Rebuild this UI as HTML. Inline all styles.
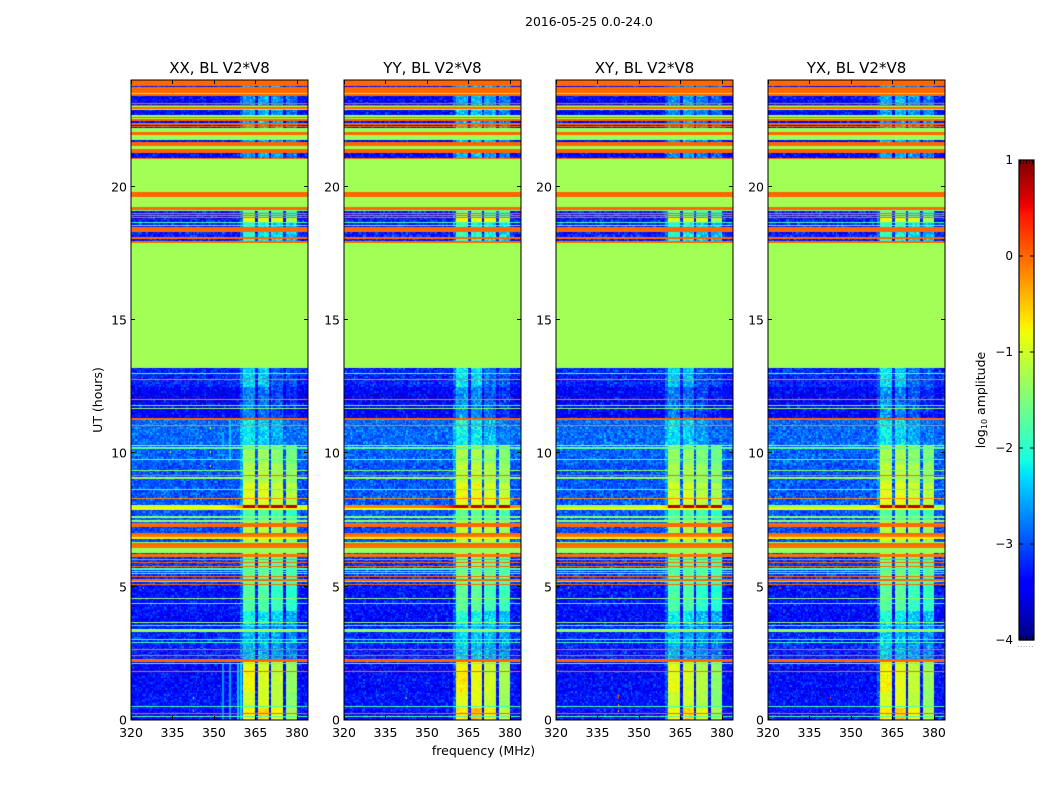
<!DOCTYPE html>
<html lang="en">
<head>
<meta charset="utf-8">
<title>2016-05-25 spectrogram</title>
<style>
html,body{margin:0;padding:0;background:#fff;}
#figure{position:relative;width:1050px;height:800px;overflow:hidden;background:#fff;font-family:"DejaVu Sans","Liberation Sans",sans-serif;}
#figure canvas{position:absolute;top:80px;}
#overlay{position:absolute;left:0;top:0;}
text{font-family:"DejaVu Sans","Liberation Sans",sans-serif;fill:#000;}
</style>
</head>
<body>
<div id="figure">
<canvas id="panel0" width="177" height="640" style="left:131px"></canvas>
<canvas id="panel1" width="177" height="640" style="left:344px"></canvas>
<canvas id="panel2" width="177" height="640" style="left:556px"></canvas>
<canvas id="panel3" width="177" height="640" style="left:768px"></canvas>
<svg id="overlay" width="1050" height="800" xmlns="http://www.w3.org/2000/svg">
<text x="589" y="26" font-size="12.4" text-anchor="middle">2016-05-25 0.0-24.0</text>
<text x="483.5" y="755" font-size="12.5" text-anchor="middle">frequency (MHz)</text>
<text transform="translate(102,400) rotate(-90)" font-size="12.5" text-anchor="middle">UT (hours)</text>
<text transform="translate(985,400) rotate(-90)" font-size="12.5" text-anchor="middle">log<tspan font-size="8" dy="2">10</tspan><tspan dy="-2"> amplitude</tspan></text>
<g id="axes"></g>
<g id="colorbar"></g>
<text x="1026" y="647" font-size="5" letter-spacing="1.2" text-anchor="middle" fill="#555">......</text>
</svg>
</div>
<script>
/* ---------- chart data (MHz, UT hours, log10 amplitude) ---------- */
const panelTitles = ["XX, BL V2*V8", "YY, BL V2*V8", "XY, BL V2*V8", "YX, BL V2*V8"];
const frequencyTicks = [320, 335, 350, 365, 380];
const utTicks = [0, 5, 10, 15, 20];
const colorbarTicks = [1, 0, -1, -2, -3, -4];
const colorbarTickLabels = ["1", "0", "\u22121", "\u22122", "\u22123", "\u22124"];
const panelBandOffset = [0, 0.1, -0.05, 0.05];
const rampLevelByPanel = [-1.0, -0.2, -1.3, -1.3];
const subbandEdges = [[360.5, 364.8], [365.9, 369.9], [370.6, 375], [376, 380]];

/* [utLow, utHigh, background, band1, band2, band3, band4] */
const baseSegments = [
  [0, 0.45, -3.3, -0.75, -0.55, -0.85, -1.25],
  [0.45, 1.05, -3.3, -1.0, -0.95, -1.15, -1.4],
  [1.05, 1.7, -3.35, -0.8, -0.95, -1.1, -1.35],
  [1.7, 2.2, -3.35, -0.85, -0.95, -1.15, -1.35],
  [2.2, 3.6, -3.2, -2.4, -2.5, -2.6, -2.7],
  [3.6, 4.1, -3.35, -2.1, -2.2, -2.4, -2.5],
  [4.1, 5.05, -3.3, -1.75, -1.75, -1.95, -2.0],
  [5.05, 6.2, -3.1, -1.6, -1.6, -1.7, -1.8],
  [6.2, 7.45, -3.0, -1.2, -1.15, -1.25, -1.4],
  [7.45, 7.9, -2.95, -1.8, -1.75, -1.85, -1.95],
  [7.9, 8.9, -2.95, -0.9, -0.9, -1.05, -1.15],
  [8.9, 9.6, -2.95, -1.15, -1.15, -1.25, -1.4],
  [9.6, 10.3, -2.9, -1.3, -1.3, -1.45, -1.55],
  [10.3, 11.3, -2.85, -2.2, -2.3, -2.55, -2.8],
  [11.3, 12.5, -3.4, -2.7, -2.8, -3.0, -3.2],
  [12.5, 13.2, -3.2, -2.3, -2.4, -2.9, -3.0],
  [13.2, 17.9, -1.27, -1.27, -1.27, -1.27, -1.27],
  [17.9, 18.65, -3.2, -2.0, -2.1, -2.3, -2.4],
  [18.65, 18.85, -3.25, -0.9, -1.0, -0.95, -1.25],
  [18.85, 19.2, -3.15, -1.6, -1.7, -1.9, -2.0],
  [19.2, 21.1, -3.35, -2.6, -2.6, -2.7, -2.8],
  [21.1, 24, -3.35, -2.6, -2.5, -2.65, -2.8]
];

/* [utLow, utHigh, level] full-width flagged rows */
const flatStripes = [
  [0.10,0.13,-1.8],[0.225,0.25,0],[0.50,0.54,-1.8],[1.80,1.83,0],[2.09,2.13,-1.6],[2.19,2.29,0],
  [2.40,2.43,0],[2.625,2.65,0],[2.90,2.925,-1.8],[3.0,3.03,-1.8],[3.30,3.40,-1.35],[3.51,3.54,-1.8],
  [3.625,3.665,-1.35],[4.36,4.39,-1.8],[4.54,4.565,-1.4],[5.06,5.09,0],[5.16,5.19,-1.8],[5.23,5.27,0],
  [5.36,5.40,0],[5.49,5.52,-1.8],[5.55,5.58,-1.8],[5.62,5.65,-1.8],[5.67,5.70,-1.8],[5.74,5.78,0],
  [5.90,5.94,0],[6.0,6.03,-0.2],[6.11,6.23,-0.05],[6.28,6.46,-1.3],[6.46,6.56,-0.05],
  [6.56,6.64,0],[6.64,6.68,-1.3],[6.79,6.85,-0.7],[6.85,6.94,-0.1],[6.94,7.02,0],[7.25,7.40,0],
  [7.43,7.5,-1.4],[7.58,7.65,-1.4],[7.89,7.94,-0.8],[8.27,8.29,-0.2],[8.63,8.65,-1.7],[9.04,9.11,-1.35],
  [9.15,9.17,0],[9.34,9.375,-1.35],[9.75,9.77,-1.7],[10.18,10.22,-1.7],[10.26,10.30,-1.35],[11.04,11.06,-0.1],
  [11.25,11.31,0],[11.68,11.70,-1.35],[11.78,11.79,-1.7],[12.0,12.02,-0.1],[12.75,12.77,-0.1],[12.98,13.0,-1.7],
  [17.88,17.95,0],[18.05,18.12,0],[18.3,18.5,0],[18.53,18.56,-1.8],[18.65,18.68,-1.8],[18.82,18.85,0],
  [18.9,18.95,0],[18.99,19.02,0],[19.08,19.12,-1.5],[19.14,19.22,0],[19.22,19.61,-1.27],[19.61,19.8,0],
  [19.8,21.04,-1.27],[21.04,21.08,0],[21.26,21.42,0],[21.42,21.51,-1.3],[21.51,21.68,0],[21.75,21.93,-1.3],
  [21.93,22.05,0],[22.05,22.2,-1.3],[22.24,22.27,0],[22.31,22.39,0],[22.46,22.53,0],[22.53,22.58,-1.2],
  [22.58,22.63,0],[22.63,22.69,-1.3],[22.87,22.93,-1.3],[22.93,22.98,0],[22.98,23.04,-1.3],[23.04,23.08,0],
  [23.1,23.14,0],[23.40,23.48,0],[23.48,23.51,-0.6],[23.51,23.72,0],[23.76,23.79,0],[23.81,24,0]
];

/* bright row near 8 UT, one level per frequency knot */
const rampRow = [7.94, 8.07];
const rampFrequencies = [320, 350, 358, 360.5];
const rampOffsets = [0, 0.1, 0.5, 0.9];
const rampBandLevel = 0.75;

/* [panel, frequency, utLow, utHigh, level] */
const verticalLines = [
  [0,353.2,0,2.1,-2.65],[0,355.8,0,2.1,-2.6],[0,358.7,0,2.1,-2.4],[0,359.8,0,2.1,-2.3],
  [0,355.8,9.7,11.3,-2.4],[0,353.2,10.2,10.8,-2.5],[0,360,9.7,11.3,-2.2],[0,323.5,2.9,3.3,-2.4],
  [0,323.5,0.7,1.0,-2.5],[0,351,18.9,19.1,-1.8],[0,345.5,18.0,18.12,-1.5],
  [1,355,5.1,6.0,-1.9],[1,357.5,5.1,6.0,-1.9],[3,354,0.9,1.7,-2.4],[3,358.5,0.9,1.7,-2.5],
  [2,360,0,2.1,-2.5],[2,345,5.1,5.4,-2.5]
];

/* [panel, frequency, ut, level] */
const hotPixels = [
  [0,348.6,11.0,-0.8],[0,348.6,10.1,-0.8],[0,348.6,9.57,-0.8],[0,334,10.1,-0.9],[0,330.5,8.37,-0.2],
  [0,324.4,5.0,-0.1],[0,342.5,0.87,-0.6],[0,342.5,0.37,-0.4],
  [2,342.5,0.87,0.3],[2,342.5,0.92,0.1],[2,342.5,0.37,-0.5],[2,342.5,0.6,-0.2],[2,324.4,5.0,-0.1],
  [3,342.5,0.87,0.2],[3,342.5,0.37,-0.4],[3,324.4,5.0,0.3],[1,342.5,0.87,-1.6]
];

/* hand-typed pixel-scale grain added to noisy cells */
const speckleTable = [
 -0.21,0.08,-0.33,0.14,0.41,-0.12,-0.27,0.03,0.22,-0.38,0.11,-0.05,0.52,-0.18,-0.3,0.06,
 0.27,-0.24,-0.09,0.35,-0.41,0.17,0.02,-0.15,0.63,-0.28,0.09,-0.36,0.19,-0.07,0.31,-0.22,
 -0.11,0.44,-0.34,0.05,0.13,-0.26,0.24,-0.02,-0.4,0.37,0.01,-0.19,0.1,0.57,-0.31,-0.08,
 0.16,-0.25,0.29,-0.14,-0.37,0.07,0.21,-0.04,0.48,-0.29,-0.16,0.12,-0.06
];

/* ---------- scales ---------- */
const axesLefts = [131, 344, 556, 768];
const axesTop = 80, axesWidth = 177, axesHeight = 640;
const freqMin = 320, freqMax = 384, utMin = 0, utMax = 24;
const nCols = 128, nRows = 640;
const xOf = (f) => (f - freqMin) / (freqMax - freqMin) * axesWidth;
const yOf = (u) => axesHeight - (u - utMin) / (utMax - utMin) * axesHeight;
const cbLeft = 1019, cbWidth = 15, cbTop = 160, cbHeight = 480, cbMin = -4, cbMax = 1;
const cbY = (v) => cbTop + (cbMax - v) / (cbMax - cbMin) * cbHeight;

function channel(t, pts) {
  for (let i = 1; i < pts.length; i++) {
    if (t <= pts[i][0]) {
      const a = pts[i - 1], b = pts[i];
      return a[1] + (b[1] - a[1]) * (t - a[0]) / (b[0] - a[0]);
    }
  }
  return pts[pts.length - 1][1];
}
function jet(level) {
  const t = Math.min(1, Math.max(0, (level - cbMin) / (cbMax - cbMin)));
  const r = channel(t, [[0,0],[0.35,0],[0.66,1],[0.89,1],[1,0.5]]);
  const g = channel(t, [[0,0],[0.125,0],[0.375,1],[0.64,1],[0.91,0],[1,0]]);
  const b = channel(t, [[0,0.5],[0.11,1],[0.34,1],[0.65,0],[1,0]]);
  return "rgb(" + Math.round(r * 255) + "," + Math.round(g * 255) + "," + Math.round(b * 255) + ")";
}
const jetCache = [];
for (let i = 0; i <= 500; i++) jetCache.push(jet(cbMin + i / 100));
const jetFast = (level) => jetCache[Math.max(0, Math.min(500, Math.round((level - cbMin) * 100)))];

/* ---------- heatmap ---------- */
function interp(x, xs, ys) {
  if (x <= xs[0]) return ys[0];
  for (let i = 1; i < xs.length; i++) {
    if (x <= xs[i]) return ys[i - 1] + (ys[i] - ys[i - 1]) * (x - xs[i - 1]) / (xs[i] - xs[i - 1]);
  }
  return ys[ys.length - 1];
}
function subbandIndex(f) {
  for (let k = 0; k < subbandEdges.length; k++) {
    if (f >= subbandEdges[k][0] && f <= subbandEdges[k][1]) return k;
  }
  return -1;
}
function stripeAt(u) {
  let found = null;
  for (const s of flatStripes) {
    if (u >= s[0] && u < Math.max(s[1], s[0] + 0.0375)) found = s;
  }
  return found;
}
function segmentAt(u) {
  for (const s of baseSegments) if (u >= s[0] && u < s[1]) return s;
  return baseSegments[baseSegments.length - 1];
}
function drawPanel(p) {
  const ctx = document.getElementById("panel" + p).getContext("2d");
  const lines = verticalLines.filter((v) => v[0] === p);
  const colFreq = [], colBand = [], colX = [], colW = [];
  for (let c = 0; c < nCols; c++) {
    const f = freqMin + (c + 0.5) * (freqMax - freqMin) / nCols;
    colFreq.push(f);
    colBand.push(subbandIndex(f));
    const x0 = Math.round(xOf(freqMin + c * (freqMax - freqMin) / nCols));
    const x1 = Math.round(xOf(freqMin + (c + 1) * (freqMax - freqMin) / nCols));
    colX.push(x0);
    colW.push(x1 - x0);
  }
  for (let r = 0; r < nRows; r++) {
    const u = utMin + (r + 0.5) * (utMax - utMin) / nRows;
    const yTop = Math.round(yOf(utMin + (r + 1) * (utMax - utMin) / nRows));
    const rowH = Math.max(1, Math.round(yOf(utMin + r * (utMax - utMin) / nRows)) - yTop);
    const stripe = stripeAt(u);
    const seg = segmentAt(u);
    const inRamp = u >= rampRow[0] && u < rampRow[1];
    const flatBlock = seg[2] === seg[3] && seg[3] === seg[6];
    const nr = Math.floor(r * 2 / 3);
    const rowLines = lines.filter((v) => u >= v[2] && u < v[3]);
    for (let c = 0; c < nCols; c++) {
      const f = colFreq[c], k = colBand[c];
      let level;
      if (inRamp) {
        if (k >= 0) level = rampBandLevel;
        else if (f > 360.5 && f < 380) level = -0.1;
        else if (f >= 380) level = rampLevelByPanel[p];
        else level = rampLevelByPanel[p] + interp(f, rampFrequencies, rampOffsets);
      } else if (stripe) {
        level = stripe[2];
      } else if (flatBlock) {
        level = seg[2];
      } else {
        const grain = speckleTable[(c * c * 3 + c * nr * 5 + nr * nr * 7 + c * 11 + nr * 13 + p * 17) % speckleTable.length];
        if (k >= 0) {
          const bandLevel = seg[3 + k];
          level = bandLevel + panelBandOffset[p] + grain * (bandLevel < -2 ? 0.75 : 0.35);
        } else if (f > 359.5 && f < 360.5) {
          level = seg[2] + 0.4 + grain * 0.75;
        } else {
          level = seg[2] + grain * 0.75;
        }
        for (const v of rowLines) {
          if (Math.abs(f - v[1]) < 0.25) level = v[4];
        }
      }
      ctx.fillStyle = jetFast(level);
      ctx.fillRect(colX[c], yTop, colW[c], rowH);
    }
  }
  for (const h of hotPixels) {
    if (h[0] !== p) continue;
    ctx.fillStyle = jetFast(h[3]);
    ctx.fillRect(Math.round(xOf(h[1])), Math.round(yOf(h[2])), 1, 2);
  }
}
for (let p = 0; p < 4; p++) drawPanel(p);

/* ---------- axes ---------- */
const NS = "http://www.w3.org/2000/svg";
function svgEl(tag, attrs, parent) {
  const el = document.createElementNS(NS, tag);
  for (const k in attrs) el.setAttribute(k, attrs[k]);
  parent.appendChild(el);
  return el;
}
const axesGroup = document.getElementById("axes");
panelTitles.forEach((title, p) => {
  const left = axesLefts[p];
  const g = svgEl("g", {}, axesGroup);
  
  

  const titleEl = svgEl("text", { x: left + axesWidth / 2, y: 73, "font-size": 15, "text-anchor": "middle" }, g);
  titleEl.textContent = title;
  
  

  const frame = svgEl("rect", { x: left, y: axesTop, width: axesWidth, height: axesHeight, fill: "none", stroke: "#000", "stroke-width": 1 }, g);
  
  

  frequencyTicks.forEach((f) => {
    const x = Math.round(left + xOf(f)) + 0.5;
    const tickB = svgEl("line", { x1: x, x2: x, y1: axesTop + axesHeight, y2: axesTop + axesHeight - 4, stroke: "#000" }, g);
    
    
    const tickT = svgEl("line", { x1: x, x2: x, y1: axesTop, y2: axesTop + 4, stroke: "#000" }, g);
    
    
    const label = svgEl("text", { x: left + xOf(f), y: 737, "font-size": 12.5, "text-anchor": "middle" }, g);
    label.textContent = String(f);
    
    
  });

  utTicks.forEach((u) => {
    const y = Math.round(axesTop + yOf(u)) - 0.5;
    const tickL = svgEl("line", { x1: left, x2: left + 4, y1: y, y2: y, stroke: "#000" }, g);
    
    
    const tickR = svgEl("line", { x1: left + axesWidth, x2: left + axesWidth - 4, y1: y, y2: y, stroke: "#000" }, g);
    
    
    const label = svgEl("text", { x: left - 4, y: y + 5, "font-size": 12.5, "text-anchor": "end" }, g);
    label.textContent = String(u);
    
    
  });
});

/* ---------- colorbar ---------- */
const cbGroup = document.getElementById("colorbar");
const cbSteps = 256;
for (let i = 0; i < cbSteps; i++) {
  const v0 = cbMin + (cbMax - cbMin) * i / cbSteps;
  const v1 = cbMin + (cbMax - cbMin) * (i + 1) / cbSteps;
  const step = svgEl("rect", { x: cbLeft, y: cbY(v1), width: cbWidth, height: cbY(v0) - cbY(v1) + 0.6, fill: jet((v0 + v1) / 2) }, cbGroup);
  
  
}
const cbFrame = svgEl("rect", { x: cbLeft, y: cbTop, width: cbWidth, height: cbHeight, fill: "none", stroke: "#000", "stroke-width": 1.2 }, cbGroup);


colorbarTicks.forEach((v, i) => {
  const y = cbY(v);
  const a = svgEl("line", { x1: cbLeft, x2: cbLeft + 4, y1: y, y2: y, stroke: "#000" }, cbGroup);
  
  
  const b = svgEl("line", { x1: cbLeft + cbWidth, x2: cbLeft + cbWidth - 4, y1: y, y2: y, stroke: "#000" }, cbGroup);
  
  
  const label = svgEl("text", { x: cbLeft - 6, y: y + 4, "font-size": 12, "text-anchor": "end" }, cbGroup);
  label.textContent = colorbarTickLabels[i];
  
  
});
for (let i = 0; i < 5; i++) {
  const x = cbLeft + 1.5 + i * 3;
  const top = svgEl("line", { x1: x, x2: x, y1: cbTop, y2: cbTop + 4, stroke: "#000", "stroke-width": 0.8 }, cbGroup);
  
  
  const bottom = svgEl("line", { x1: x, x2: x, y1: cbTop + cbHeight, y2: cbTop + cbHeight - 4, stroke: "#000", "stroke-width": 0.8 }, cbGroup);
  
  
}
</script>
</body>
</html>
